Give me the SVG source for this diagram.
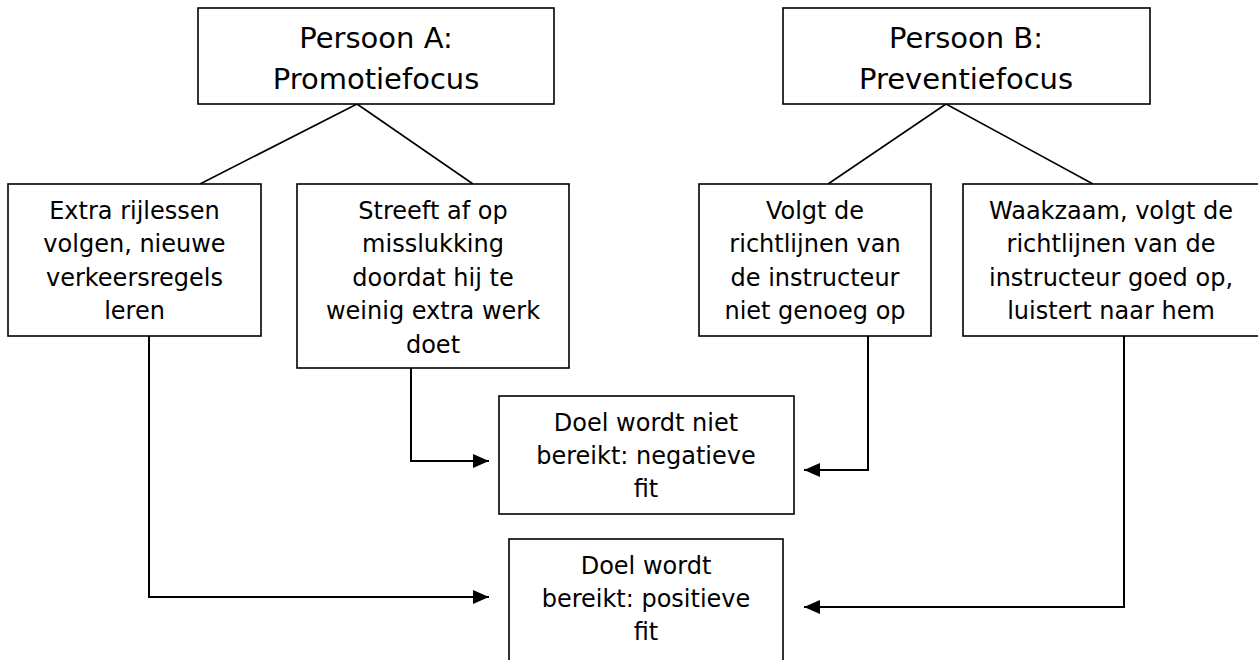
<svg xmlns="http://www.w3.org/2000/svg" width="1258" height="660" viewBox="0 0 1258 660">
<style>
.box{fill:#fff;stroke:#000;stroke-width:1.6}
.t{font-family:"DejaVu Sans",Verdana,sans-serif;font-size:24px;fill:#000;text-anchor:middle}
.big{font-size:29px}
.ln{fill:none;stroke:#000;stroke-width:1.6}
.ar{fill:none;stroke:#000;stroke-width:2;marker-end:url(#ah)}
</style>
<defs>
<marker id="ah" markerWidth="17" markerHeight="14" refX="16" refY="7" orient="auto" markerUnits="userSpaceOnUse">
<path d="M0,0 L16,7 L0,14 Z" fill="#000"/>
</marker>
</defs>
<rect width="1258" height="660" fill="#fff"/>
<g id="connectors">
<path class="ln" d="M357,104 L200,184 M357,104 L473,184"/>
<path class="ln" d="M946,104 L828,184 M946,104 L1093,184"/>
<path class="ar" d="M411,368 L411,461 L489,461"/>
<path class="ar" d="M868,336 L868,470 L804,470"/>
<path class="ar" d="M149,336 L149,597 L489,597"/>
<path class="ar" d="M1124,336 L1124,607 L804,607"/>
</g>
<g id="personA">
<rect class="box" x="198" y="8" width="356" height="96"/>
<text class="t big" x="376" y="48">Persoon A:</text>
<text class="t big" x="376" y="89">Promotiefocus</text>
</g>
<g id="personB">
<rect class="box" x="783" y="8" width="367" height="96"/>
<text class="t big" x="966" y="48">Persoon B:</text>
<text class="t big" x="966" y="89">Preventiefocus</text>
</g>
<g id="a1">
<rect class="box" x="8" y="184" width="253" height="152"/>
<text class="t" x="134.5" y="219">Extra rijlessen</text>
<text class="t" x="134.5" y="252">volgen, nieuwe</text>
<text class="t" x="134.5" y="286">verkeersregels</text>
<text class="t" x="134.5" y="319">leren</text>
</g>
<g id="a2">
<rect class="box" x="297" y="184" width="272" height="184"/>
<text class="t" x="433" y="219">Streeft af op</text>
<text class="t" x="433" y="252">misslukking</text>
<text class="t" x="433" y="286">doordat hij te</text>
<text class="t" x="433" y="319">weinig extra werk</text>
<text class="t" x="433" y="353">doet</text>
</g>
<g id="b1">
<rect class="box" x="699" y="184" width="232" height="152"/>
<text class="t" x="815" y="219">Volgt de</text>
<text class="t" x="815" y="252">richtlijnen van</text>
<text class="t" x="815" y="286">de instructeur</text>
<text class="t" x="815" y="319">niet genoeg op</text>
</g>
<g id="b2">
<rect class="box" x="963" y="184" width="300" height="152"/>
<text class="t" x="1111" y="219">Waakzaam, volgt de</text>
<text class="t" x="1111" y="252">richtlijnen van de</text>
<text class="t" x="1111" y="286">instructeur goed op,</text>
<text class="t" x="1111" y="319">luistert naar hem</text>
</g>
<g id="negative">
<rect class="box" x="499" y="396" width="295" height="118"/>
<text class="t" x="646" y="431">Doel wordt niet</text>
<text class="t" x="646" y="464">bereikt: negatieve</text>
<text class="t" x="646" y="497">fit</text>
</g>
<g id="positive">
<rect class="box" x="509" y="539" width="274" height="130"/>
<text class="t" x="646" y="574">Doel wordt</text>
<text class="t" x="646" y="607">bereikt: positieve</text>
<text class="t" x="646" y="640">fit</text>
</g>
</svg>
